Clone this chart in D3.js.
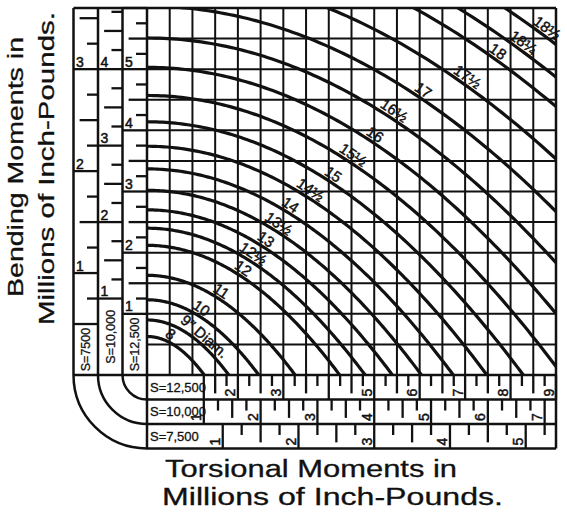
<!DOCTYPE html>
<html><head><meta charset="utf-8">
<script src="https://cdn.jsdelivr.net/npm/d3@7"></script>
<style>body{margin:0;background:#fff} svg{display:block}</style>
</head><body>
<svg id="c" width="567" height="515"></svg>
<script>
// ---------- data (moments in millions of inch-pounds, S = 12,500 scale) ----------
const curveLabels = ["8", "9\u2033 Diam.", "10", "11", "12", "12\u00bd", "13", "13\u00bd", "14", "14\u00bd", "15", "15\u00bd", "16", "16\u00bd", "17", "17\u00bd", "18", "18\u00bc", "18\u00bd"];
// bending moment where each curve meets the bending axis (T = 0)
const curveBendingIntercepts = [0.63, 0.90, 1.23, 1.63, 2.12, 2.40, 2.70, 3.02, 3.37, 3.74, 4.14, 4.57, 5.03, 5.51, 6.03, 6.60, 7.20, 7.55, 7.95];
// torsional moment at which each curve's label sits
const curveLabelTorsion = [0.42, 1.15, 1.10, 1.54, 2.02, 2.24, 2.52, 2.80, 3.06, 3.50, 4.00, 4.44, 4.92, 5.34, 5.98, 6.95, 7.62, 8.18, 8.70];

const stressNames = ["S=12,500", "S=10,000", "S=7,500"];
const stressNamesLeft = ["S=12,500", "S=10,000", "S=7500"];
const stressFactors = [1, 1.25, 5 / 3];           // main-scale units per unit of each S scale
const leftTickLabels = [[1, 2, 3, 4, 5], [1, 2, 3, 4], [1, 2, 3]];
const leftScaleStart = [1, 1, 0.5];
const leftScaleEnd = [6, 4.8, 3.6];
const bottomTickLabels = [[2, 3, 5, 6, 7, 8, 9], [1, 2, 3, 4, 5, 6, 7], [1, 2, 3, 4, 5]];
const bottomScaleStart = [1.25, 1, 1];
const bottomScaleEnd = [9, 7.2, 5.4];

const xTitle = ["Torsional Moments in", "Millions of Inch-Pounds."];
const yTitle = ["Bending Moments in", "Millions of Inch-Pounds."];

// ---------- drawing ----------
const ink = "#111";
const font = "'Liberation Sans', Arial, sans-serif";
const svg = d3.select("#c");
const x = d3.scaleLinear().domain([0, 9]).range([147, 556]);
const y = d3.scaleLinear().domain([0, 6]).range([375, 8]);
const X0 = x(0), XR = x(9), Y0 = y(0), YT = y(6);
const band = 24.5;

// grid
const grid = svg.append("g").attr("stroke", ink).attr("stroke-width", 2);
grid.selectAll("line.v").data(d3.range(0, 9.001, 0.5)).join("line")
  .attr("x1", d => x(d)).attr("x2", d => x(d)).attr("y1", YT).attr("y2", Y0);
grid.selectAll("line.h").data(d3.range(0, 6.001, 0.5)).join("line").attr("class", "h")
  .attr("y1", d => y(d)).attr("y2", d => y(d)).attr("x1", X0).attr("x2", XR);

// frame
const frame = svg.append("g").attr("stroke", ink).attr("stroke-width", 2.5).attr("fill", "none");
frame.append("line").attr("x1", X0 - 3 * band).attr("x2", XR).attr("y1", YT).attr("y2", YT);
frame.append("line").attr("x1", X0 - 3 * band).attr("x2", XR).attr("y1", Y0).attr("y2", Y0);
[1, 2, 3].forEach(k => {
  frame.append("line").attr("x1", X0 - k * band).attr("x2", X0 - k * band).attr("y1", YT).attr("y2", Y0);
  frame.append("line").attr("y1", Y0 + k * band).attr("y2", Y0 + k * band).attr("x1", X0).attr("x2", XR);
  frame.append("path").attr("d", `M${X0 - k * band},${Y0} A${k * band},${k * band} 0 0 0 ${X0},${Y0 + k * band}`);
});
frame.append("line").attr("x1", X0).attr("x2", X0).attr("y1", YT).attr("y2", Y0 + 3 * band);
frame.append("line").attr("x1", XR).attr("x2", XR).attr("y1", YT).attr("y2", Y0 + 3 * band);

// curves
svg.append("clipPath").attr("id", "plot").append("rect")
  .attr("x", X0).attr("y", YT).attr("width", XR - X0).attr("height", Y0 - YT);
const line = d3.line().x(d => x(d[0])).y(d => y(d[1]));
const curveG = svg.append("g").attr("clip-path", "url(#plot)");
curveBendingIntercepts.forEach(a => {
  const pts = d3.range(0, 2 * a + 0.001, 2 * a / 120).map(t => [t, a - t * t / (4 * a)]);
  curveG.append("path").attr("d", line(pts)).attr("fill", "none").attr("stroke", ink).attr("stroke-width", 3.2);
});

// curve labels
const kx = (x(1) - x(0)), ky = (y(0) - y(1));
curveLabels.forEach((lab, i) => {
  const a = curveBendingIntercepts[i], t = curveLabelTorsion[i];
  const m = a - t * t / (4 * a);
  const slope = ky / kx * t / (2 * a);
  const ang = Math.max(Math.atan(slope), 0.6);
  const off = 8;
  const px = x(t) + Math.sin(ang) * off, py = y(m) - Math.cos(ang) * off;
  svg.append("text").attr("transform", `translate(${px},${py}) rotate(${ang * 180 / Math.PI})`)
    .attr("text-anchor", "middle").attr("dy", "0.35em")
    .attr("font-family", font).attr("font-size", 15).attr("fill", ink)
    .attr("stroke", ink).attr("stroke-width", 0.45).text(lab);
});

// left scales
stressFactors.forEach((f, i) => {
  const k = i + 1, right = X0 - (k - 1) * band, left = X0 - k * band;
  const g = svg.append("g").attr("stroke", ink);
  const ticks = d3.range(leftScaleStart[i], leftScaleEnd[i] + 0.001, 0.25);
  ticks.forEach(v => {
    const isInt = Math.abs(v - Math.round(v)) < 1e-6;
    const isHalf = Math.abs(v * 2 - Math.round(v * 2)) < 1e-6;
    const len = (isInt || v === leftScaleStart[i]) ? band : isHalf ? 0.75 * band : 0.45 * band;
    g.append("line").attr("x1", right - len).attr("x2", right).attr("y1", y(v * f)).attr("y2", y(v * f))
      .attr("stroke-width", 2.3);
  });
  svg.append("g").selectAll("text").data(leftTickLabels[i]).join("text")
    .attr("x", left + 2.5).attr("y", v => y(v * f) - 2.5)
    .attr("font-family", font).attr("font-size", 14).attr("fill", ink)
    .attr("stroke", ink).attr("stroke-width", 0.5).text(v => v);
  const cy = (y(leftScaleStart[i] * f) + Y0) / 2;
  svg.append("text").attr("transform", `translate(${left + band / 2},${cy}) rotate(-90)`)
    .attr("text-anchor", "middle").attr("dy", "0.35em")
    .attr("font-family", font).attr("font-size", 12.5).attr("fill", ink)
    .attr("stroke", ink).attr("stroke-width", 0.3).text(stressNamesLeft[i]);
});

// bottom scales
stressFactors.forEach((f, i) => {
  const k = i + 1, top = Y0 + (k - 1) * band, bottom = Y0 + k * band;
  const g = svg.append("g").attr("stroke", ink);
  const ticks = d3.range(bottomScaleStart[i], bottomScaleEnd[i] + 0.001, 0.25);
  ticks.forEach(v => {
    const isInt = Math.abs(v - Math.round(v)) < 1e-6;
    const isHalf = Math.abs(v * 2 - Math.round(v * 2)) < 1e-6;
    const len = (isInt || v === bottomScaleStart[i]) ? band : isHalf ? 0.75 * band : 0.45 * band;
    g.append("line").attr("y1", top).attr("y2", top + len).attr("x1", x(v * f)).attr("x2", x(v * f))
      .attr("stroke-width", 2.3);
  });
  svg.append("g").selectAll("text").data(bottomTickLabels[i]).join("text")
    .attr("transform", v => `translate(${x(v * f) - 2.5},${bottom - 3}) rotate(-90)`)
    .attr("font-family", font).attr("font-size", 14).attr("fill", ink)
    .attr("stroke", ink).attr("stroke-width", 0.5).text(v => v);
  svg.append("text").attr("x", X0 + 3).attr("y", (top + bottom) / 2).attr("dy", "0.35em")
    .attr("font-family", font).attr("font-size", 13).attr("fill", ink)
    .attr("stroke", ink).attr("stroke-width", 0.3).text(stressNames[i]);
});

// titles
const titleStyle = s => s.attr("font-family", font).attr("fill", ink).attr("lengthAdjust", "spacingAndGlyphs")
  .attr("stroke", ink).attr("stroke-width", 0.3);
svg.append("text").attr("x", 165).attr("y", 477).attr("textLength", 292).attr("font-size", 23).call(titleStyle).text(xTitle[0]);
svg.append("text").attr("x", 162).attr("y", 505).attr("textLength", 341).attr("font-size", 23).call(titleStyle).text(xTitle[1]);
svg.append("text").attr("transform", "translate(23,297) rotate(-90)").attr("textLength", 260).attr("font-size", 22).call(titleStyle).text(yTitle[0]);
svg.append("text").attr("transform", "translate(54,325) rotate(-90)").attr("textLength", 313).attr("font-size", 22).call(titleStyle).text(yTitle[1]);
</script>
</body></html>
